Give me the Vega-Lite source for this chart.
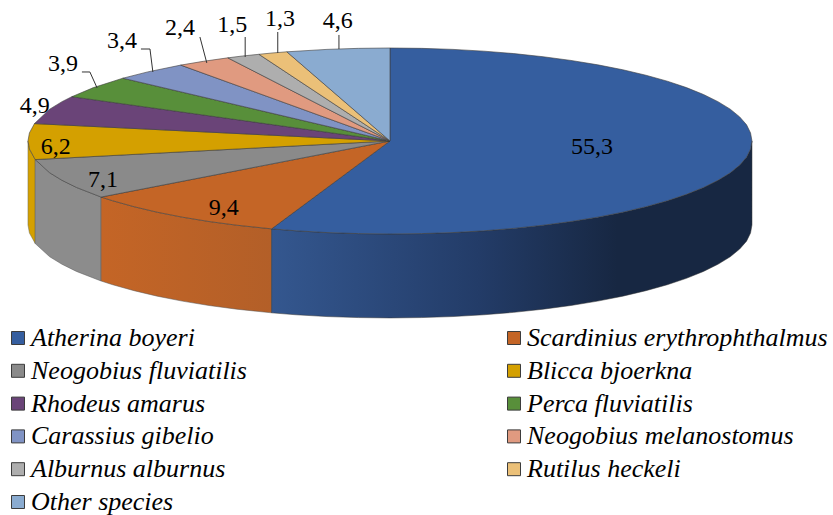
{"$schema":"https://vega.github.io/schema/vega-lite/v6.json","width":833,"height":515,"autosize":{"type":"fit","contains":"padding"},"padding":0,"background":"white","view":{"stroke":null},
"datasets":{
"wall":[
{"x":-100,"y":0,"yBase":-90.3,"piece":"yellow"},{"x":-99.6,"y":-8.7,"yBase":-99,"piece":"yellow"},{"x":-98,"y":-20,"yBase":-110.3,"piece":"yellow"},
{"x":-98,"y":-20,"yBase":-110.3,"piece":"grey"},{"x":-94,"y":-34.2,"yBase":-124.5,"piece":"grey"},{"x":-90.6,"y":-42.3,"yBase":-132.6,"piece":"grey"},{"x":-86.6,"y":-50,"yBase":-140.3,"piece":"grey"},{"x":-79.8,"y":-60.3,"yBase":-150.6,"piece":"grey"},
{"x":-79.8,"y":-60.3,"yBase":-150.6,"piece":"orange"},{"x":-76.6,"y":-64.3,"yBase":-154.6,"piece":"orange"},{"x":-70.7,"y":-70.7,"yBase":-161,"piece":"orange"},{"x":-64.3,"y":-76.6,"yBase":-166.9,"piece":"orange"},{"x":-57.4,"y":-81.9,"yBase":-172.2,"piece":"orange"},{"x":-50,"y":-86.6,"yBase":-176.9,"piece":"orange"},{"x":-42.3,"y":-90.6,"yBase":-180.9,"piece":"orange"},{"x":-32.7,"y":-94.5,"yBase":-184.8,"piece":"orange"},
{"x":-32.7,"y":-94.5,"yBase":-184.8,"piece":"blue"},{"x":-25.9,"y":-96.6,"yBase":-186.9,"piece":"blue"},{"x":-17.4,"y":-98.5,"yBase":-188.8,"piece":"blue"},{"x":-8.7,"y":-99.6,"yBase":-189.9,"piece":"blue"},{"x":0,"y":-100,"yBase":-190.3,"piece":"blue"},{"x":8.7,"y":-99.6,"yBase":-189.9,"piece":"blue"},{"x":17.4,"y":-98.5,"yBase":-188.8,"piece":"blue"},{"x":25.9,"y":-96.6,"yBase":-186.9,"piece":"blue"},{"x":34.2,"y":-94,"yBase":-184.3,"piece":"blue"},{"x":42.3,"y":-90.6,"yBase":-180.9,"piece":"blue"},{"x":50,"y":-86.6,"yBase":-176.9,"piece":"blue"},{"x":57.4,"y":-81.9,"yBase":-172.2,"piece":"blue"},{"x":64.3,"y":-76.6,"yBase":-166.9,"piece":"blue"},{"x":70.7,"y":-70.7,"yBase":-161,"piece":"blue"},{"x":76.6,"y":-64.3,"yBase":-154.6,"piece":"blue"},{"x":81.9,"y":-57.4,"yBase":-147.7,"piece":"blue"},{"x":86.6,"y":-50,"yBase":-140.3,"piece":"blue"},{"x":90.6,"y":-42.3,"yBase":-132.6,"piece":"blue"},{"x":94,"y":-34.2,"yBase":-124.5,"piece":"blue"},{"x":96.6,"y":-25.9,"yBase":-116.2,"piece":"blue"},{"x":98.5,"y":-17.4,"yBase":-107.7,"piece":"blue"},{"x":99.6,"y":-8.7,"yBase":-99,"piece":"blue"},{"x":100,"y":0,"yBase":-90.3,"piece":"blue"}
],
"top":[
{"species":"Atherina boyeri","x":0,"y":0},{"species":"Atherina boyeri","x":0,"y":100},{"species":"Atherina boyeri","x":8.7,"y":99.6},{"species":"Atherina boyeri","x":17.4,"y":98.5},{"species":"Atherina boyeri","x":25.9,"y":96.6},{"species":"Atherina boyeri","x":34.2,"y":94},{"species":"Atherina boyeri","x":42.3,"y":90.6},{"species":"Atherina boyeri","x":50,"y":86.6},{"species":"Atherina boyeri","x":57.4,"y":81.9},{"species":"Atherina boyeri","x":64.3,"y":76.6},{"species":"Atherina boyeri","x":70.7,"y":70.7},{"species":"Atherina boyeri","x":76.6,"y":64.3},{"species":"Atherina boyeri","x":81.9,"y":57.4},{"species":"Atherina boyeri","x":86.6,"y":50},{"species":"Atherina boyeri","x":90.6,"y":42.3},{"species":"Atherina boyeri","x":94,"y":34.2},{"species":"Atherina boyeri","x":96.6,"y":25.9},{"species":"Atherina boyeri","x":98.5,"y":17.4},{"species":"Atherina boyeri","x":99.6,"y":8.7},{"species":"Atherina boyeri","x":100,"y":0},{"species":"Atherina boyeri","x":99.6,"y":-8.7},{"species":"Atherina boyeri","x":98.5,"y":-17.4},{"species":"Atherina boyeri","x":96.6,"y":-25.9},{"species":"Atherina boyeri","x":94,"y":-34.2},{"species":"Atherina boyeri","x":90.6,"y":-42.3},{"species":"Atherina boyeri","x":86.6,"y":-50},{"species":"Atherina boyeri","x":81.9,"y":-57.4},{"species":"Atherina boyeri","x":76.6,"y":-64.3},{"species":"Atherina boyeri","x":70.7,"y":-70.7},{"species":"Atherina boyeri","x":64.3,"y":-76.6},{"species":"Atherina boyeri","x":57.4,"y":-81.9},{"species":"Atherina boyeri","x":50,"y":-86.6},{"species":"Atherina boyeri","x":42.3,"y":-90.6},{"species":"Atherina boyeri","x":34.2,"y":-94},{"species":"Atherina boyeri","x":25.9,"y":-96.6},{"species":"Atherina boyeri","x":17.4,"y":-98.5},{"species":"Atherina boyeri","x":8.7,"y":-99.6},{"species":"Atherina boyeri","x":0,"y":-100},{"species":"Atherina boyeri","x":-8.7,"y":-99.6},{"species":"Atherina boyeri","x":-17.4,"y":-98.5},{"species":"Atherina boyeri","x":-25.9,"y":-96.6},{"species":"Atherina boyeri","x":-32.7,"y":-94.5},{"species":"Atherina boyeri","x":0,"y":0},
{"species":"Scardinius erythrophthalmus","x":0,"y":0},{"species":"Scardinius erythrophthalmus","x":-32.7,"y":-94.5},{"species":"Scardinius erythrophthalmus","x":-42.3,"y":-90.6},{"species":"Scardinius erythrophthalmus","x":-50,"y":-86.6},{"species":"Scardinius erythrophthalmus","x":-57.4,"y":-81.9},{"species":"Scardinius erythrophthalmus","x":-64.3,"y":-76.6},{"species":"Scardinius erythrophthalmus","x":-70.7,"y":-70.7},{"species":"Scardinius erythrophthalmus","x":-76.6,"y":-64.3},{"species":"Scardinius erythrophthalmus","x":-79.8,"y":-60.3},{"species":"Scardinius erythrophthalmus","x":0,"y":0},
{"species":"Neogobius fluviatilis","x":0,"y":0},{"species":"Neogobius fluviatilis","x":-79.8,"y":-60.3},{"species":"Neogobius fluviatilis","x":-86.6,"y":-50},{"species":"Neogobius fluviatilis","x":-90.6,"y":-42.3},{"species":"Neogobius fluviatilis","x":-94,"y":-34.2},{"species":"Neogobius fluviatilis","x":-98,"y":-20},{"species":"Neogobius fluviatilis","x":0,"y":0},
{"species":"Blicca bjoerkna","x":0,"y":0},{"species":"Blicca bjoerkna","x":-98,"y":-20},{"species":"Blicca bjoerkna","x":-99.6,"y":-8.7},{"species":"Blicca bjoerkna","x":-100,"y":0},{"species":"Blicca bjoerkna","x":-99.6,"y":8.7},{"species":"Blicca bjoerkna","x":-98.2,"y":18.7},{"species":"Blicca bjoerkna","x":0,"y":0},
{"species":"Rhodeus amarus","x":0,"y":0},{"species":"Rhodeus amarus","x":-98.2,"y":18.7},{"species":"Rhodeus amarus","x":-94,"y":34.2},{"species":"Rhodeus amarus","x":-90.6,"y":42.3},{"species":"Rhodeus amarus","x":-87.9,"y":47.6},{"species":"Rhodeus amarus","x":0,"y":0},
{"species":"Perca fluviatilis","x":0,"y":0},{"species":"Perca fluviatilis","x":-87.9,"y":47.6},{"species":"Perca fluviatilis","x":-81.9,"y":57.4},{"species":"Perca fluviatilis","x":-73.8,"y":67.5},{"species":"Perca fluviatilis","x":0,"y":0},
{"species":"Carassius gibelio","x":0,"y":0},{"species":"Carassius gibelio","x":-73.8,"y":67.5},{"species":"Carassius gibelio","x":-66.9,"y":74.3},{"species":"Carassius gibelio","x":-57.8,"y":81.6},{"species":"Carassius gibelio","x":0,"y":0},
{"species":"Neogobius melanostomus","x":0,"y":0},{"species":"Neogobius melanostomus","x":-57.8,"y":81.6},{"species":"Neogobius melanostomus","x":-51.5,"y":85.7},{"species":"Neogobius melanostomus","x":-44.8,"y":89.4},{"species":"Neogobius melanostomus","x":0,"y":0},
{"species":"Alburnus alburnus","x":0,"y":0},{"species":"Alburnus alburnus","x":-44.8,"y":89.4},{"species":"Alburnus alburnus","x":-40.7,"y":91.4},{"species":"Alburnus alburnus","x":-36.2,"y":93.2},{"species":"Alburnus alburnus","x":0,"y":0},
{"species":"Rutilus heckeli","x":0,"y":0},{"species":"Rutilus heckeli","x":-36.2,"y":93.2},{"species":"Rutilus heckeli","x":-32.6,"y":94.6},{"species":"Rutilus heckeli","x":-28.5,"y":95.9},{"species":"Rutilus heckeli","x":0,"y":0},
{"species":"Other species","x":0,"y":0},{"species":"Other species","x":-28.5,"y":95.9},{"species":"Other species","x":-17.4,"y":98.5},{"species":"Other species","x":-8.7,"y":99.6},{"species":"Other species","x":0,"y":100},{"species":"Other species","x":0,"y":0}
],
"labels":[
{"species":"Atherina boyeri","share":"55,3","x":55.8,"y":-6.5},{"species":"Scardinius erythrophthalmus","share":"9,4","x":-45.9,"y":-72},{"species":"Neogobius fluviatilis","share":"7,1","x":-79.3,"y":-41.9},{"species":"Blicca bjoerkna","share":"6,2","x":-92.3,"y":-6.5},{"species":"Rhodeus amarus","share":"4,9","x":-98.1,"y":37.6},{"species":"Perca fluviatilis","share":"3,9","x":-90.3,"y":82.8},{"species":"Carassius gibelio","share":"3,4","x":-74,"y":107.5},{"species":"Neogobius melanostomus","share":"2,4","x":-58,"y":121.5},{"species":"Alburnus alburnus","share":"1,5","x":-43.6,"y":124.7},{"species":"Rutilus heckeli","share":"1,3","x":-30.4,"y":131.2},{"species":"Other species","share":"4,6","x":-14.4,"y":129}
],
"leaders":[
{"species":"Other species","x":-14.1,"y":114},{"species":"Other species","x":-14.1,"y":98.9},
{"species":"Rutilus heckeli","x":-31,"y":117.2},{"species":"Rutilus heckeli","x":-31,"y":94.6},
{"species":"Alburnus alburnus","x":-40,"y":111.8},{"species":"Alburnus alburnus","x":-40,"y":90.3},
{"species":"Neogobius melanostomus","x":-52.5,"y":111.8},{"species":"Neogobius melanostomus","x":-50.6,"y":83.9},
{"species":"Carassius gibelio","x":-68.8,"y":98.9},{"species":"Carassius gibelio","x":-66.3,"y":98.9},{"species":"Carassius gibelio","x":-65.5,"y":74.2},
{"species":"Perca fluviatilis","x":-85.1,"y":74.2},{"species":"Perca fluviatilis","x":-82.9,"y":74.2},{"species":"Perca fluviatilis","x":-80.9,"y":57}
]},
"encoding":{
"x":{"field":"x","type":"quantitative","axis":null,"scale":{"domain":[-107.73,122.38],"nice":false,"zero":false}},
"y":{"field":"y","type":"quantitative","axis":null,"scale":{"domain":[-402.2,151.6],"nice":false,"zero":false}}
},
"layer":[
{"data":{"name":"wall"},"transform":[{"filter":"datum.piece==='yellow'"}],"mark":{"type":"area","fill":"#D4A000","stroke":"#6b6b55","strokeWidth":0.5},"encoding":{"y2":{"field":"yBase"}}},
{"data":{"name":"wall"},"transform":[{"filter":"datum.piece==='grey'"}],"mark":{"type":"area","fill":"#8C8C8C","stroke":"#555555","strokeWidth":0.5},"encoding":{"y2":{"field":"yBase"}}},
{"data":{"name":"wall"},"transform":[{"filter":"datum.piece==='orange'"}],"mark":{"type":"area","fill":{"gradient":"linear","x1":0,"x2":1,"y1":0,"y2":0,"stops":[{"offset":0,"color":"#C46526"},{"offset":1,"color":"#B35F28"}]},"stroke":"#555555","strokeWidth":0.5},"encoding":{"y2":{"field":"yBase"}}},
{"data":{"name":"wall"},"transform":[{"filter":"datum.piece==='blue'"}],"mark":{"type":"area","fill":{"gradient":"linear","x1":0,"x2":1,"y1":0,"y2":0,"stops":[{"offset":0,"color":"#34578F"},{"offset":0.43,"color":"#233C68"},{"offset":0.72,"color":"#172742"},{"offset":1,"color":"#172742"}]},"stroke":"#333333","strokeWidth":0.5},"encoding":{"y2":{"field":"yBase"}}},
{"data":{"name":"top"},"transform":[{"window":[{"op":"row_number","as":"seq"}]}],"mark":{"type":"line","stroke":"#3c3c3c","strokeWidth":0.6,"strokeJoin":"round"},"encoding":{"order":{"field":"seq"},"fill":{"field":"species","type":"nominal","sort":null,"scale":{"domain":["Atherina boyeri","Scardinius erythrophthalmus","Neogobius fluviatilis","Blicca bjoerkna","Rhodeus amarus","Perca fluviatilis","Carassius gibelio","Neogobius melanostomus","Alburnus alburnus","Rutilus heckeli","Other species"],"range":["#355E9F","#C46526","#8A8A8A","#D4A000","#6A4478","#588F3A","#8093C4","#E09A80","#AEAEAE","#EBC078","#8AABD0"]},"legend":{"title":null,"orient":"none","legendX":5,"legendY":325,"direction":"horizontal","columns":2,"symbolType":"square","symbolSize":169,"symbolStrokeColor":"#3c3c3c","symbolStrokeWidth":1,"labelFont":"Liberation Serif","labelFontStyle":"italic","labelFontSize":26,"labelColor":"#000000","labelLimit":400,"labelOffset":0,"rowPadding":6.8,"columnPadding":254,"gridAlign":"each"}}}},
{"data":{"name":"leaders"},"transform":[{"window":[{"op":"row_number","as":"seq"}]}],"mark":{"type":"line","stroke":"#333333","strokeWidth":1},"encoding":{"order":{"field":"seq"},"detail":{"field":"species"}}},
{"data":{"name":"labels"},"mark":{"type":"text","font":"Liberation Serif","fontSize":24,"color":"#000000","baseline":"middle","align":"center"},"encoding":{"text":{"field":"share"}}}
]}
